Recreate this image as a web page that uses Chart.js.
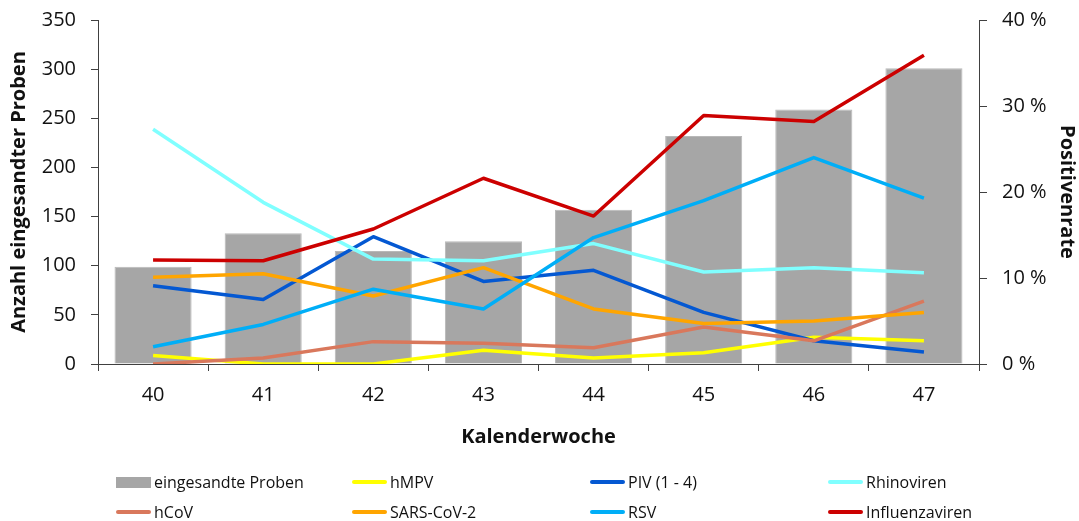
<!DOCTYPE html>
<html lang="de">
<head>
<meta charset="utf-8">
<title>Eingesandte Proben und Positivenrate nach Kalenderwoche</title>
<script src="https://cdn.jsdelivr.net/npm/chart.js@4.4.1/dist/chart.umd.min.js"></script>
<style>
  html, body { margin: 0; padding: 0; background: #fff; }
  #wrap { position: relative; width: 1079px; height: 521px; }
  #chart { position: absolute; left: 0; top: 0; }
  .leg { position: absolute; font-family: "Open Sans", sans-serif; font-size: 16px; color: #111;
         display: flex; align-items: center; white-space: nowrap; height: 24px; line-height: 24px; }
  .leg .sym { display: inline-block; width: 35px; margin-right: 3px; }
</style>
</head>
<body>
<div id="wrap">
  <canvas id="chart" width="1079" height="521"></canvas>
  <div id="legend"></div>
</div>
<script>
// Kalenderwochen
const weeks = ['40', '41', '42', '43', '44', '45', '46', '47'];

// Anzahl eingesandter Proben (linke Achse)
const samples = [99, 133, 115, 125, 157, 232, 259, 301];

// Positivenraten in % (rechte Achse)
const hMPV      = [1.0, 0.0, 0.0, 1.6, 0.7, 1.3, 3.1, 2.7];
const piv       = [9.1, 7.5, 14.8, 9.6, 10.9, 6.0, 2.7, 1.4];
const rhino     = [27.3, 18.8, 12.2, 12.0, 14.0, 10.7, 11.2, 10.6];
const hCoV      = [0.0, 0.7, 2.6, 2.4, 1.9, 4.3, 2.7, 7.3];
const sarsCoV2  = [10.1, 10.5, 7.9, 11.2, 6.4, 4.7, 5.0, 6.0];
const rsv       = [2.0, 4.6, 8.7, 6.4, 14.7, 19.0, 24.0, 19.3];
const influenza = [12.1, 12.0, 15.7, 21.6, 17.2, 28.9, 28.2, 35.9];

// Achsenbeschriftungen
const leftTicks = [0, 50, 100, 150, 200, 250, 300, 350];
const rightTicks = [0, 10, 20, 30, 40];

const FONT = '"Open Sans", sans-serif';
const AXIS = '#404040';

const lineSeries = [
  { label: 'hMPV',           data: hMPV,      color: '#FFFF00', order: 6 },
  { label: 'PIV (1 - 4)',    data: piv,       color: '#0458D2', order: 5 },
  { label: 'Rhinoviren',     data: rhino,     color: '#80FFFF', order: 4 },
  { label: 'hCoV',           data: hCoV,      color: '#D9785C', order: 3 },
  { label: 'SARS-CoV-2',     data: sarsCoV2,  color: '#FFA500', order: 2 },
  { label: 'RSV',            data: rsv,       color: '#00AEF7', order: 1 },
  { label: 'Influenzaviren', data: influenza, color: '#CC0000', order: 0 }
];

const datasets = [
  {
    type: 'bar',
    label: 'eingesandte Proben',
    data: samples,
    backgroundColor: '#A6A6A6',
    borderColor: '#B8B8B8',
    borderWidth: 1,
    barPercentage: 0.7,
    categoryPercentage: 1.0,
    yAxisID: 'y',
    order: 10
  },
  ...lineSeries.map(s => ({
    type: 'line',
    label: s.label,
    data: s.data,
    borderColor: s.color,
    backgroundColor: s.color,
    borderWidth: 3.5,
    borderJoinStyle: 'round',
    pointRadius: 0,
    pointHoverRadius: 0,
    tension: 0,
    fill: false,
    yAxisID: 'y1',
    order: s.order
  }))
];

// Feste Breite der senkrechten Achsen, ohne zusätzlichen Überstand oben/unten
const fixVertical = w => s => {
  s.width = w;
  s.paddingTop = 0;
  s.paddingBottom = 0;
};

new Chart(document.getElementById('chart'), {
  data: { labels: weeks, datasets },
  options: {
    responsive: false,
    animation: false,
    events: [],
    layout: { padding: { top: 20, right: 0, bottom: 0, left: 0 } },
    plugins: { legend: { display: false }, tooltip: { enabled: false } },
    scales: {
      x: {
        offset: true,
        grid: { display: true, drawOnChartArea: false, offset: true, tickLength: 7, color: AXIS, lineWidth: 1 },
        border: { display: true, color: AXIS, width: 1 },
        ticks: { color: '#111', font: { family: FONT, size: 20 }, padding: 12 },
        title: { display: true, text: 'Kalenderwoche', color: '#111',
                 font: { family: FONT, size: 20, weight: 'bold' }, padding: { top: 0, bottom: 72 } },
        afterFit: s => { s.height = 157; s.paddingLeft = 0; s.paddingRight = 0; }
      },
      y: {
        position: 'left',
        min: 0, max: 350,
        afterBuildTicks: s => { s.ticks = leftTicks.map(v => ({ value: v })); },
        grid: { display: true, drawOnChartArea: false, tickLength: 7, color: AXIS, lineWidth: 1 },
        border: { display: true, color: AXIS, width: 1 },
        ticks: { color: '#111', font: { family: FONT, size: 20 }, padding: 15 },
        title: { display: true, text: 'Anzahl eingesandter Proben', color: '#111',
                 font: { family: FONT, size: 20, weight: 'bold' }, padding: { top: 7, bottom: 0 } },
        afterFit: fixVertical(98)
      },
      y1: {
        position: 'right',
        min: 0, max: 40,
        afterBuildTicks: s => { s.ticks = rightTicks.map(v => ({ value: v })); },
        grid: { display: true, drawOnChartArea: false, tickLength: 8, color: AXIS, lineWidth: 1 },
        border: { display: true, color: AXIS, width: 1 },
        ticks: { color: '#111', font: { family: FONT, size: 20 }, padding: 15,
                 callback: v => v + ' %' },
        title: { display: true, text: 'Positivenrate', color: '#111',
                 font: { family: FONT, size: 20, weight: 'bold' }, padding: { top: 0, bottom: 0 } },
        afterFit: fixVertical(100)
      }
    }
  }
});

// Legende in einem Raster aus zwei Zeilen und vier Spalten
const legendItems = [
  { label: 'eingesandte Proben', color: '#A6A6A6', box: true },
  ...lineSeries.map(s => ({ label: s.label, color: s.color, box: false }))
];
const colX = [116, 352, 590, 828];
const rowY = [470, 500];
const legend = document.getElementById('legend');
legendItems.forEach((it, i) => {
  const el = document.createElement('div');
  el.className = 'leg';
  el.style.left = colX[i % 4] + 'px';
  el.style.top = rowY[Math.floor(i / 4)] + 'px';
  const sym = document.createElement('span');
  sym.className = 'sym';
  sym.style.background = it.color;
  sym.style.height = it.box ? '11px' : '4px';
  if (!it.box) sym.style.borderRadius = '2px';
  const txt = document.createElement('span');
  txt.textContent = it.label;
  el.appendChild(sym);
  el.appendChild(txt);
  legend.appendChild(el);
});
</script>
</body>
</html>
